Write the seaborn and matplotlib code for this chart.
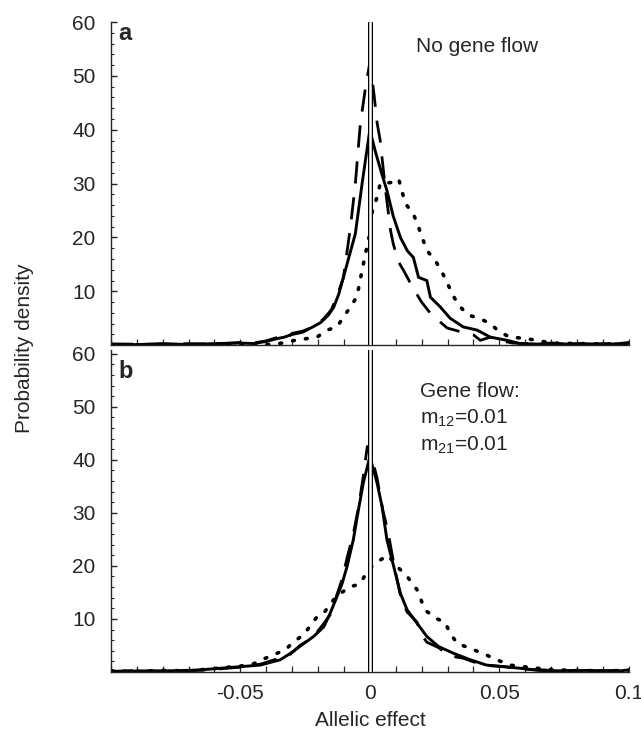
import numpy as np
import pandas as pd
import matplotlib
matplotlib.use("Agg")
import matplotlib.pyplot as plt
import seaborn as sns

# valores (efeito alélico x densidade)
a_solid_x = [-0.1, -0.09, -0.08, -0.07, -0.06, -0.05, -0.045, -0.04, -0.036, -0.033, -0.03, -0.026,
             -0.022, -0.019, -0.016, -0.014, -0.012, -0.0102, -0.008, -0.0056, -0.003, -0.0015, 0.0,
             0.0021, 0.0045, 0.0066, 0.009, 0.0118, 0.0145, 0.0168, 0.0188, 0.022, 0.0234, 0.0272,
             0.031, 0.036, 0.0414, 0.0465, 0.053, 0.058, 0.065, 0.07, 0.075, 0.08, 0.085, 0.09, 0.095, 0.1]
a_solid_y = [0.2, 0.1, 0.3, 0.1, 0.3, 0.4, 0.3, 0.7, 1.2, 1.5, 2.0, 2.4,
             3.4, 4.2, 5.6, 7.0, 9.5, 12.6, 16.5, 20.7, 30.0, 35.0, 40.0,
             36.0, 32.0, 28.7, 24.0, 20.0, 17.5, 16.3, 12.6, 12.0, 8.9, 7.1,
             5.0, 3.4, 2.8, 1.5, 0.9, 0.3, 0.2, 0.4, 0.2, 0.3, 0.1, 0.3, 0.2, 0.5]

a_dash_x = [-0.1, -0.09, -0.08, -0.07, -0.06, -0.05, -0.045, -0.04, -0.036, -0.033, -0.03, -0.026,
            -0.0218, -0.018, -0.015, -0.0127, -0.0102, -0.0075, -0.0056, -0.0037, -0.0017, 0.0,
            0.0015, 0.0028, 0.004, 0.006, 0.008, 0.009, 0.011, 0.013, 0.0168, 0.02, 0.0234, 0.0298,
            0.035, 0.04, 0.0427, 0.0465, 0.05, 0.055, 0.06, 0.07, 0.08, 0.09, 0.1]
a_dash_y = [0.2, 0.2, 0.1, 0.3, 0.2, 0.5, 0.4, 0.8, 1.4, 1.0, 2.2, 2.6,
            3.4, 4.8, 6.5, 9.0, 12.6, 21.9, 30.0, 41.0, 47.8, 52.5,
            47.0, 41.3, 38.0, 29.0, 21.3, 18.9, 15.5, 13.9, 10.5, 8.0, 5.9, 3.2,
            2.5, 1.9, 0.9, 1.5, 0.9, 0.4, 0.3, 0.2, 0.3, 0.2, 0.3]

a_dot_x = [-0.1, -0.08, -0.06, -0.04, -0.035, -0.029, -0.0204, -0.0165, -0.0127, -0.0102, -0.0075,
           -0.005, -0.003, -0.0017, 0.0, 0.001, 0.0028, 0.004, 0.008, 0.0111, 0.0137, 0.0168, 0.0188,
           0.022, 0.0253, 0.0278, 0.0298, 0.0317, 0.0343, 0.038, 0.0427, 0.0465, 0.05, 0.054, 0.059,
           0.0646, 0.07, 0.08, 0.09, 0.1]
a_dot_y = [0.0, 0.1, 0.0, 0.1, 0.3, 0.9, 1.5, 2.8, 3.4, 5.2, 7.1,
           9.0, 13.9, 17.0, 20.7, 25.0, 27.5, 30.0, 30.2, 30.9, 26.3, 24.4, 21.9,
           17.6, 15.7, 13.6, 11.7, 9.6, 7.4, 5.6, 4.9, 4.0, 2.5, 1.5, 1.3,
           0.9, 0.4, 0.3, 0.2, 0.3]

b_solid_x = [-0.1, -0.095, -0.09, -0.08, -0.07, -0.0654, -0.0577, -0.05, -0.0423, -0.0346, -0.0307,
             -0.0268, -0.0217, -0.0178, -0.0153, -0.0127, -0.0107, -0.0088, -0.0064, -0.0044, -0.0025,
             0.0, 0.0028, 0.0047, 0.0066, 0.0092, 0.0118, 0.0144, 0.0182, 0.022, 0.0265, 0.0324,
             0.0388, 0.045, 0.0517, 0.058, 0.065, 0.075, 0.085, 0.095, 0.1]
b_solid_y = [0.2, 0.0, 0.2, 0.2, 0.3, 0.4, 0.7, 1.0, 1.3, 2.3, 3.5,
             4.9, 6.7, 8.5, 11.1, 14.2, 16.7, 19.9, 24.9, 30.6, 35.7,
             40.6, 35.6, 31.2, 24.9, 19.9, 14.8, 11.7, 9.2, 6.7, 4.8, 3.5,
             2.3, 1.3, 1.0, 0.7, 0.3, 0.2, 0.3, 0.1, 0.4]

b_dash_x = [-0.1, -0.09, -0.08, -0.07, -0.06, -0.05, -0.042, -0.035, -0.031, -0.027, -0.022, -0.018,
            -0.0153, -0.0127, -0.0107, -0.0088, -0.0064, -0.0044, -0.0025, -0.001, 0.001, 0.0028,
            0.005, 0.007, 0.0092, 0.012, 0.0144, 0.0182, 0.02, 0.022, 0.0265, 0.031, 0.036, 0.04,
            0.046, 0.052, 0.058, 0.065, 0.075, 0.085, 0.095, 0.1]
b_dash_y = [0.1, 0.3, 0.1, 0.2, 0.5, 0.9, 1.5, 2.6, 3.2, 5.0, 6.5, 9.0,
            10.8, 14.6, 17.5, 21.5, 26.0, 31.0, 37.0, 42.5, 40.0, 36.5,
            30.5, 26.5, 20.5, 14.0, 11.3, 9.4, 7.0, 5.6, 4.6, 3.0, 2.6, 1.9,
            1.2, 1.0, 0.6, 0.4, 0.3, 0.2, 0.3, 0.2]

b_dot_x = [-0.1, -0.09, -0.08, -0.07, -0.059, -0.0527, -0.046, -0.0403, -0.0326, -0.0294, -0.0256,
           -0.0204, -0.0178, -0.014, -0.0114, -0.0075, -0.005, -0.0037, -0.0015, 0.0, 0.004, 0.007,
           0.0105, 0.0144, 0.0182, 0.0208, 0.022, 0.026, 0.029, 0.031, 0.0337, 0.04, 0.045, 0.049,
           0.054, 0.059, 0.0646, 0.071, 0.08, 0.09, 0.1]
b_dot_y = [0.2, 0.1, 0.3, 0.2, 0.7, 1.0, 1.3, 2.6, 4.2, 5.7, 7.0,
           10.4, 11.1, 13.6, 14.8, 16.1, 16.4, 16.7, 18.5, 19.6, 21.1, 22.0,
           19.9, 18.0, 15.5, 12.3, 11.4, 10.0, 9.4, 7.3, 5.4, 4.2, 3.2, 2.3,
           1.3, 1.0, 0.7, 0.4, 0.3, 0.2, 0.3]

x_tick_vals = [-0.05, 0, 0.05, 0.1]
x_tick_labels = ["-0.05", "0", "0.05", "0.1"]
y_tick_vals = [10, 20, 30, 40, 50, 60]

sns.set_style("ticks")
plt.rcParams["font.family"] = ["Liberation Sans", "DejaVu Sans"]
plt.rcParams["mathtext.fontset"] = "custom"
plt.rcParams["mathtext.rm"] = "Liberation Sans"
plt.rcParams["mathtext.it"] = "Liberation Sans"

fig = plt.figure(figsize=(6.41, 7.36), dpi=100)
ax_a = fig.add_axes([0.173, 0.531, 0.808, 0.439])
ax_b = fig.add_axes([0.173, 0.087, 0.808, 0.4375])

DASH = (0, (8.0, 5.0))
DOT = (0, (0.5, 3.1))

def desenha(ax, sx, sy, dx, dy, px, py, ytop):
    sns.lineplot(x=dx, y=dy, ax=ax, color="black", lw=2.0, linestyle=DASH, sort=False)
    sns.lineplot(x=sx, y=sy, ax=ax, color="black", lw=2.1, sort=False)
    sns.lineplot(x=px, y=py, ax=ax, color="black", lw=2.6, linestyle=DOT,
                 dash_capstyle="round", sort=False)
    ax.axvline(0, color="black", lw=3.6, zorder=5)
    ax.axvline(0, color="white", lw=1.8, zorder=6)
    ax.set_xlim(-0.1, 0.1)
    ax.set_ylim(0, ytop)
    sns.despine(ax=ax)
    ax.spines["left"].set_linewidth(1.0)
    ax.spines["bottom"].set_linewidth(1.0)
    ax.set_yticks(y_tick_vals)
    ax.set_yticks(np.arange(0, 61, 2), minor=True)
    ax.set_xticks(x_tick_vals)
    ax.set_xticks(np.arange(-0.1, 0.101, 0.01), minor=True)
    ax.tick_params(axis="both", which="both", direction="in", labelsize=15)
    ax.tick_params(axis="y", which="major", length=4, width=1, pad=11)
    ax.tick_params(axis="y", which="minor", length=2.5, width=0.8)
    ax.tick_params(axis="x", which="both", length=4, width=0.9, pad=9)
    ax.set_xlabel("")
    ax.set_ylabel("")

desenha(ax_a, a_solid_x, a_solid_y, a_dash_x, a_dash_y, a_dot_x, a_dot_y, 60)
desenha(ax_b, b_solid_x, b_solid_y, b_dash_x, b_dash_y, b_dot_x, b_dot_y, 60.7)

ax_a.set_xticklabels([])
ax_b.set_xticklabels(x_tick_labels)

ax_a.text(0.015, 1.0, "a", transform=ax_a.transAxes, fontsize=17, fontweight="bold", va="top")
ax_b.text(0.015, 0.97, "b", transform=ax_b.transAxes, fontsize=17, fontweight="bold", va="top")
ax_a.text(0.0415, 55.5, "No gene flow", fontsize=15, ha="center", va="center")
ax_b.text(0.0195, 52.8, "Gene flow:", fontsize=15, ha="left", va="center")
ax_b.text(0.0195, 47.9, r"m$_{12}$=0.01", fontsize=15, ha="left", va="center")
ax_b.text(0.0195, 42.8, r"m$_{21}$=0.01", fontsize=15, ha="left", va="center")

fig.text(0.038, 0.527, "Probability density", rotation=90, fontsize=15, ha="center", va="center")
fig.text(370 / 641, 1 - 720 / 736, "Allelic effect", fontsize=15, ha="center", va="center")

fig.savefig("out.png", dpi=100)
